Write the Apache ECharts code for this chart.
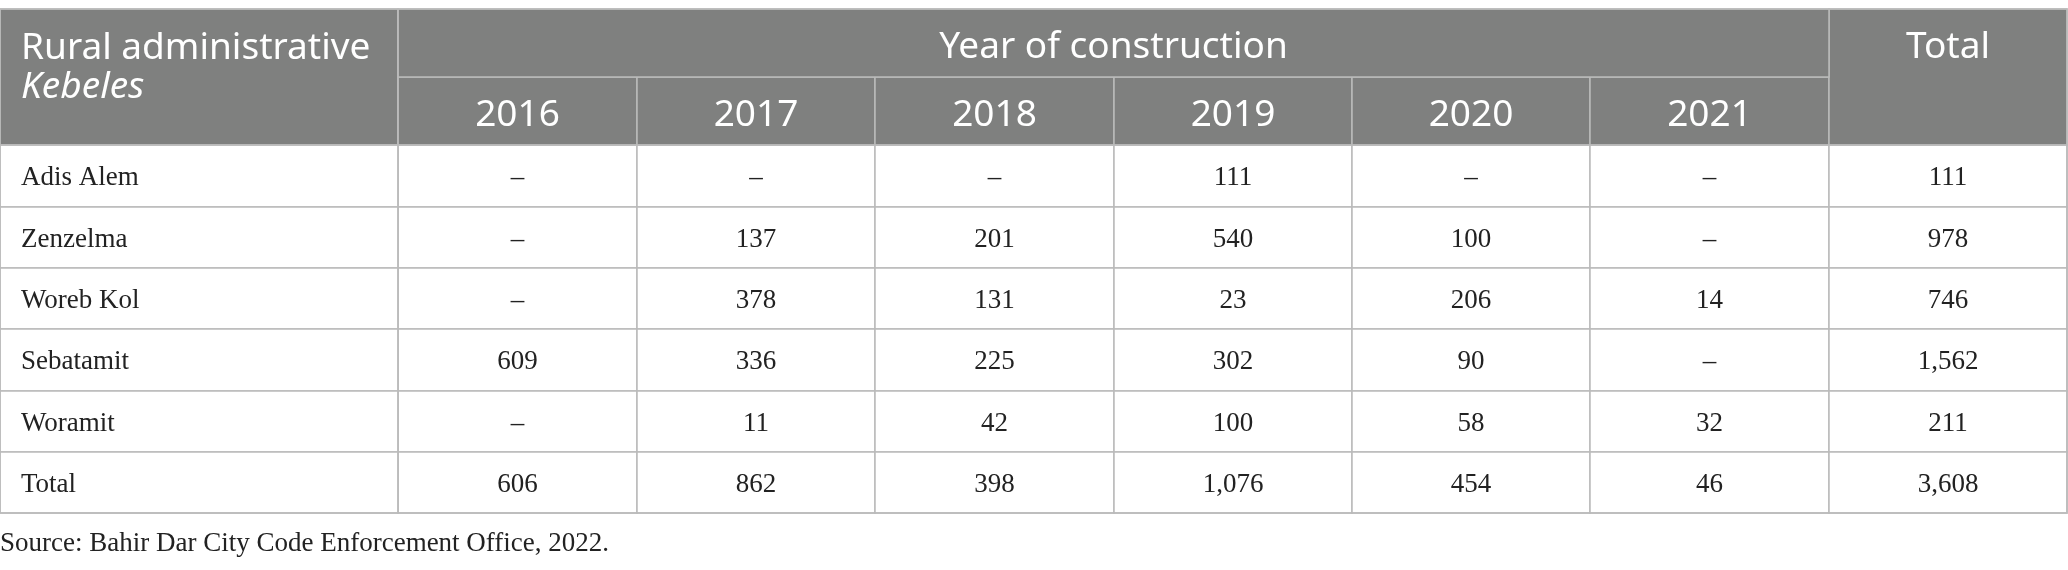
<!DOCTYPE html>
<html>
<head>
<meta charset="utf-8">
<script src="https://cdn.jsdelivr.net/npm/echarts@6.0.0/dist/echarts.min.js"></script>
<style>
  html, body { margin: 0; padding: 0; background: #fff; }
  #main { width: 2068px; height: 570px; }
</style>
</head>
<body>
<div id="main"></div>
<script>
// 表格数据
const years = ['2016', '2017', '2018', '2019', '2020', '2021'];
const kebeles = ['Adis Alem', 'Zenzelma', 'Woreb Kol', 'Sebatamit', 'Woramit', 'Total'];
const counts2016 = [null, null, null, 609, null, 606];
const counts2017 = [null, 137, 378, 336, 11, 862];
const counts2018 = [null, 201, 131, 225, 42, 398];
const counts2019 = [111, 540, 23, 302, 100, 1076];
const counts2020 = [null, 100, 206, 90, 58, 454];
const counts2021 = [null, null, 14, null, 32, 46];
const totals = [111, 978, 746, 1562, 211, 3608];
const sourceNote = 'Source: Bahir Dar City Code Enforcement Office, 2022.';

const yearCounts = [counts2016, counts2017, counts2018, counts2019, counts2020, counts2021];

function fmt(v) {
    return v == null ? '–' : v.toLocaleString('en-US');
}

// 单元格
let bodyData = [];
kebeles.forEach(function (k, r) {
    yearCounts.forEach(function (arr, c) {
        bodyData.push({coord: [years[c], k], value: fmt(arr[r])});
    });
    bodyData.push({coord: ['Total', k], value: fmt(totals[r])});
});

const lineColor = '#bbbbbb';
const headColor = '#7f807f';
// 表头文字：靠上
const headFont = {
    position: 'insideTop', distance: 0, verticalAlign: 'top', padding: [20, 0, 0, 0],
    color: '#fff', fontFamily: 'Noto Sans', fontSize: 37
};
const bodyFont = {
    position: 'insideTop', distance: 0, verticalAlign: 'top', padding: [19, 0, 0, 0],
    color: '#222', fontFamily: 'Liberation Serif', fontSize: 27
};

let myChart = echarts.init(document.getElementById('main'));
let options = {
    animation: false,
    title: {
        text: sourceNote,
        left: 0,
        top: 530,
        padding: 0,
        textStyle: {fontFamily: 'Liberation Serif', fontSize: 27, fontWeight: 'normal', color: '#222'}
    },
    matrix: {
        left: 0,
        right: 1,
        top: 9,
        height: 504,
        backgroundStyle: {color: '#fff', borderColor: lineColor, borderWidth: 1.5},
        x: {
            data: [
                {value: 'Year of construction', children: years},
                {value: 'Total'}
            ],
            levelSize: 68,
            label: headFont,
            itemStyle: {color: headColor, borderColor: lineColor, borderWidth: 1.5},
            dividerLineStyle: {color: lineColor, width: 1.5}
        },
        y: {
            data: kebeles,
            levelSize: 398,
            label: Object.assign({}, bodyFont, {position: 'insideTopLeft', align: 'left', padding: [19, 0, 0, 21]}),
            itemStyle: {color: '#fff', borderColor: lineColor, borderWidth: 1.5},
            dividerLineStyle: {color: lineColor, width: 1.5}
        },
        corner: {
            data: [{
                coord: [-1, [-2, -1]],
                mergeCells: true,
                value: 'Rural administrative\n{i|Kebeles}'
            }],
            label: {
                position: 'insideTopLeft',
                distance: 0,
                color: '#fff',
                fontFamily: 'Noto Sans',
                fontSize: 37,
                align: 'left',
                verticalAlign: 'top',
                lineHeight: 39,
                overflow: 'none',
                lineOverflow: 'none',
                padding: [20, 0, 0, 21],
                rich: {i: {fontStyle: 'italic', fontFamily: 'Noto Sans', fontSize: 37, lineHeight: 39, color: '#fff'}}
            },
            itemStyle: {color: headColor, borderColor: lineColor, borderWidth: 1.5}
        },
        body: {
            data: bodyData,
            label: bodyFont,
            itemStyle: {color: '#fff', borderColor: lineColor, borderWidth: 1.5}
        }
    }
};
myChart.setOption(options);
</script>
</body>
</html>
